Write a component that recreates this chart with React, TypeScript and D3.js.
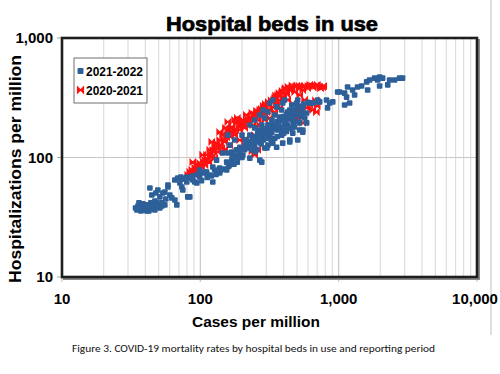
import React from 'react';
import * as d3 from 'd3';

// [cases per million, hospitalizations per million]
const series2021_2022: [number, number][] = [
  [34, 37.8], [35.4, 39.3], [36.6, 37.1], [37.8, 38.6], [39.1, 36.4], [40.4, 40.1], [41.8, 37.8],
  [43.2, 39.3], [44.6, 37.1], [46.1, 40.9], [47.7, 38.6], [36, 41.7], [38.4, 40.9], [41.1, 35.7],
  [43.9, 41.7], [49.3, 40.1], [51, 37.8], [34.8, 36.4], [42.5, 35.7], [45.3, 38.6], [52.7, 39.3],
  [39.7, 38.6], [37.2, 35.7], [46.9, 36.4], [48.5, 41.7], [55.4, 40.1],
  [43.2, 55.6], [44.6, 48.6], [46.9, 43.3], [49.3, 53.5], [51, 46.8], [53.6, 50.5], [55.4, 51.5],
  [58.3, 56.7], [60.2, 48.6], [62.2, 45.9], [65.4, 44.1], [67.6, 40.1], [52.7, 41.7], [56.3, 45],
  [58.3, 58.9], [47.7, 50.5],
  [65.4, 64.8], [68.7, 67.3], [72.3, 68.6], [75.9, 66], [79.8, 68.6], [83.9, 67.3], [88.2, 64.8],
  [73.5, 56.7], [74.7, 53.5], [81.1, 46.8], [83.9, 46.8], [91.2, 62.3], [94.3, 61.1], [99, 68.6],
  [99, 78.6], [104, 74.2], [79.8, 62.3], [71.1, 61.1],
  [108, 75.7], [111, 75.7], [117, 71.4], [123, 62.3], [123, 83.2], [127, 78.6], [131, 95],
  [138, 81.7], [138, 74.2], [145, 109], [155, 91.4], [155, 78.6], [158, 109], [158, 154],
  [163, 127], [163, 86.5], [169, 111], [169, 95], [182, 116], [185, 91.4], [193, 122], [203, 105],
  [215, 140], [228, 98.8], [236, 116], [240, 148], [247, 127], [260, 160], [269, 95], [269, 170],
  [278, 140], [292, 120], [303, 170], [308, 187], [318, 148], [318, 286], [329, 206], [334, 132],
  [345, 227], [356, 265], [362, 170], [375, 177], [375, 218], [387, 250], [394, 286], [394, 132],
  [407, 187], [421, 214], [443, 250], [443, 140], [458, 177], [466, 206], [466, 160], [481, 227],
  [497, 286], [506, 140], [523, 195], [523, 170], [541, 250], [550, 265], [550, 163], [568, 214],
  [587, 236], [587, 195], [618, 286], [650, 286], [705, 292], [729, 292], [817, 303], [831, 260],
  [861, 286], [906, 292], [983, 353], [1016, 353], [1104, 346], [1104, 275], [1141, 320],
  [1160, 389], [1200, 286], [1261, 367], [1304, 333], [1370, 389], [1465, 397], [1593, 429],
  [1620, 367], [1674, 445], [1819, 462], [1911, 445], [1977, 471], [1977, 397], [2078, 462],
  [2263, 405], [2335, 445], [2537, 445], [2757, 462], [2896, 462],
  [219, 127], [228, 154], [247, 177], [260, 137], [278, 187], [287, 154], [308, 127], [329, 163],
  [345, 145], [362, 198], [387, 154], [407, 170], [428, 240], [292, 214], [256, 116], [209, 116],
  [193, 105], [177, 140], [200, 154], [228, 187], [443, 135], [356, 122], [278, 91.4], [303, 120],
  [550, 170], [541, 232], [705, 303], [247, 206], [269, 227], [285, 250], [308, 240], [334, 303],
  [407, 303], [458, 275], [506, 303], [428, 187], [394, 206], [318, 187],
  [170, 100], [180, 105], [190, 112], [200, 118], [210, 125], [220, 130], [230, 135], [240, 142],
  [250, 150], [260, 155], [270, 160], [280, 165], [290, 170], [300, 175], [320, 180], [340, 190],
  [360, 200], [380, 210], [400, 220], [420, 230], [450, 240], [480, 250], [500, 260], [520, 270],
  [560, 280], [600, 290], [210, 140], [225, 120], [240, 130], [255, 135], [265, 150], [275, 130],
  [285, 140], [295, 155], [310, 160], [325, 140], [335, 175], [350, 185], [370, 190], [385, 170],
  [400, 160], [415, 200], [435, 210], [455, 220], [470, 190], [490, 200], [510, 230], [530, 220],
  [480, 180], [440, 175], [420, 165], [360, 150], [300, 145], [250, 112], [200, 100], [185, 98],
  [175, 88], [160, 84], [150, 80], [140, 78], [130, 72], [120, 70], [112, 68], [102, 64], [95, 72],
  [88, 70],
];

const series2020_2021: [number, number][] = [
  [77.2, 67.3], [81.1, 71.4], [83.9, 75.7], [86.8, 78.6], [91.2, 81.7], [94.3, 86.5], [99, 89.9],
  [95.8, 78.6], [102, 83.2], [108, 95], [111, 105], [115, 91.4], [117, 116], [121, 101], [123, 116],
  [127, 127], [131, 132], [134, 111], [138, 140], [143, 120], [145, 154], [150, 135], [155, 148],
  [158, 170], [163, 163], [169, 177], [169, 180], [177, 154], [182, 195], [185, 214], [193, 170],
  [200, 187], [203, 206], [209, 177], [215, 227], [219, 198], [228, 214], [236, 236], [240, 187],
  [247, 222], [256, 236], [260, 206], [269, 250], [278, 218], [287, 260], [292, 232], [303, 240],
  [308, 275], [318, 250], [329, 292], [334, 265], [345, 315], [356, 280], [362, 333], [375, 303],
  [387, 346], [400, 320], [407, 367], [421, 340], [443, 367], [458, 381], [481, 353], [497, 397],
  [523, 381], [550, 367], [568, 397], [597, 381], [618, 405], [650, 389], [683, 397], [729, 389],
  [765, 389], [523, 333], [568, 303], [587, 260], [618, 275], [650, 250], [550, 195], [506, 214],
  [481, 275], [428, 303], [269, 187], [247, 154], [228, 140], [209, 127], [193, 140], [177, 206],
  [127, 99], [108, 86.5], [91.2, 71.4], [150, 116], [163, 127], [292, 206], [318, 214], [345, 240],
  [375, 260], [523, 240], [74.7, 64.8], [88.2, 91.4], [104, 105], [121, 135], [138, 163],
  [158, 198], [236, 113], [247, 105], [260, 116], [152, 177],
  [85, 70], [90, 76], [98, 84], [105, 92], [112, 98], [118, 108], [125, 112], [130, 120],
  [140, 128], [148, 140], [155, 155], [165, 150], [172, 165], [180, 170], [190, 180], [198, 195],
  [205, 190], [215, 200], [225, 205], [235, 215], [245, 230], [255, 245], [265, 240], [275, 255],
  [285, 270], [295, 280], [310, 290], [325, 300], [340, 305], [350, 330], [370, 345], [390, 360],
  [410, 380], [430, 390], [460, 400], [490, 390], [520, 395], [560, 390], [600, 395], [640, 400],
  [700, 405], [740, 380], [780, 395], [680, 300], [700, 270], [690, 240],
];

const seriesNames = ['2021-2022', '2020-2021'];
const xTickLabels = ['10', '100', '1,000', '10,000'];
const yTickLabels = ['10', '100', '1,000'];

const BLUE = '#2d5f99';
const RED = '#ff1111';
const FONT = '"Liberation Sans", Arial, sans-serif';

const Bowtie = ({ x, y, s = 3 }: { x: number; y: number; s?: number }) => (
  <path
    d={`M${x - s},${y - s}L${x},${y}L${x - s},${y + s}Z M${x + s},${y - s}L${x},${y}L${x + s},${y + s}Z M${x - s},${y - s}V${y + s} M${x + s},${y - s}V${y + s}`}
    fill={RED}
    stroke={RED}
    strokeWidth={1.2}
  />
);

export default function App() {
  const margin = { left: 62, right: 23, top: 38, bottom: 97 };
  const width = 500;
  const height = 374;

  const x = d3.scaleLog().domain([10, 10000]).range([margin.left, width - margin.right]);
  const y = d3.scaleLog().domain([10, 1000]).range([height - margin.bottom, margin.top]);

  const [x0, x1] = x.range();
  const [y0, y1] = y.range();
  const xGrid = x.ticks();
  const decadesX = [10, 100, 1000, 10000];
  const decadesY = [10, 100, 1000];

  return (
    <svg width={width} height={height} style={{ position: 'absolute', left: 0, top: 0, background: '#fff' }}>
      {/* page edge */}
      <line x1={491} x2={491} y1={0} y2={335} stroke="#d4d4d4" strokeWidth={1.5} />

      <text x={272} y={31} textAnchor="middle" fontFamily={FONT} fontWeight={900} fontSize={21}
        textLength={212} lengthAdjust="spacingAndGlyphs" fill="#000" stroke="#000" strokeWidth={0.7}>
        Hospital beds in use
      </text>

      {/* vertical grid */}
      {xGrid.map((t, i) => (
        <line key={i} x1={x(t)} x2={x(t)} y1={y1} y2={y0 + (decadesX.includes(t) ? 5 : 3)}
          stroke={decadesX.includes(t) ? '#c8c8c8' : '#dedede'} strokeWidth={1.2} />
      ))}
      {/* horizontal grid at 100 */}
      <line x1={x0 - 4} x2={x1} y1={y(100)} y2={y(100)} stroke="#c8c8c8" strokeWidth={1.2} />
      {decadesY.map((t, i) => (
        <line key={i} x1={x0 - 5} x2={x0} y1={y(t)} y2={y(t)} stroke="#aaa" strokeWidth={1} />
      ))}

      {/* points */}
      {series2020_2021.map((d, i) => (
        <Bowtie key={'r' + i} x={x(d[0])} y={y(d[1])} s={2.7} />
      ))}
      {series2021_2022.map((d, i) => (
        <rect key={'b' + i} x={x(d[0]) - 2.8} y={y(d[1]) - 2.8} width={5.6} height={5.6} rx={1}
          fill={BLUE} />
      ))}

      {/* frame with shadow */}
      <path d={`M${x1 + 2},${y1 + 1}V${y0 + 2}H${x0 + 1}`} fill="none" stroke="#888" strokeWidth={2} />
      <rect x={x0} y={y1} width={x1 - x0} height={y0 - y1} fill="none" stroke="#1e1e1e" strokeWidth={2.6} />

      {/* tick labels */}
      {decadesY.map((t, i) => (
        <text key={i} x={53} y={y(t) + 5} textAnchor="end" fontFamily={FONT} fontWeight={700}
          fontSize={15} fill="#000">{yTickLabels[i]}</text>
      ))}
      {decadesX.map((t, i) => (
        <text key={i} x={x(t) - (i === 3 ? 2 : 0)} y={304} textAnchor="middle" fontFamily={FONT} fontWeight={700}
          fontSize={15} fill="#000">{xTickLabels[i]}</text>
      ))}

      {/* axis titles */}
      <text x={256} y={327} textAnchor="middle" fontFamily={FONT} fontWeight={700} fontSize={15.5}
        textLength={128} lengthAdjust="spacingAndGlyphs" fill="#000">Cases per million</text>
      <text transform="translate(21,169) rotate(-90)" textAnchor="middle" fontFamily={FONT}
        fontWeight={700} fontSize={16.5} textLength={228} lengthAdjust="spacingAndGlyphs"
        fill="#000">Hospitalizations per million</text>

      {/* legend */}
      <rect x={74} y={58} width={73} height={45} fill="#fff" stroke="#6e6e6e" strokeWidth={1} />
      <rect x={77.5} y={68} width={6} height={6} fill={BLUE} rx={1} />
      <text x={86} y={76} fontFamily={FONT} fontWeight={700} fontSize={12.5} textLength={57}
        lengthAdjust="spacingAndGlyphs" fill="#000">{seriesNames[0]}</text>
      <Bowtie x={80.5} y={90} s={3} />
      <text x={86} y={95} fontFamily={FONT} fontWeight={700} fontSize={12.5} textLength={57}
        lengthAdjust="spacingAndGlyphs" fill="#000">{seriesNames[1]}</text>

      {/* caption */}
      <text x={72} y={352} fontFamily={'Carlito, "Liberation Sans", sans-serif'} fontSize={10}
        textLength={363} lengthAdjust="spacingAndGlyphs" fill="#111">
        Figure 3. COVID-19 mortality rates by hospital beds in use and reporting period
      </text>
    </svg>
  );
}
